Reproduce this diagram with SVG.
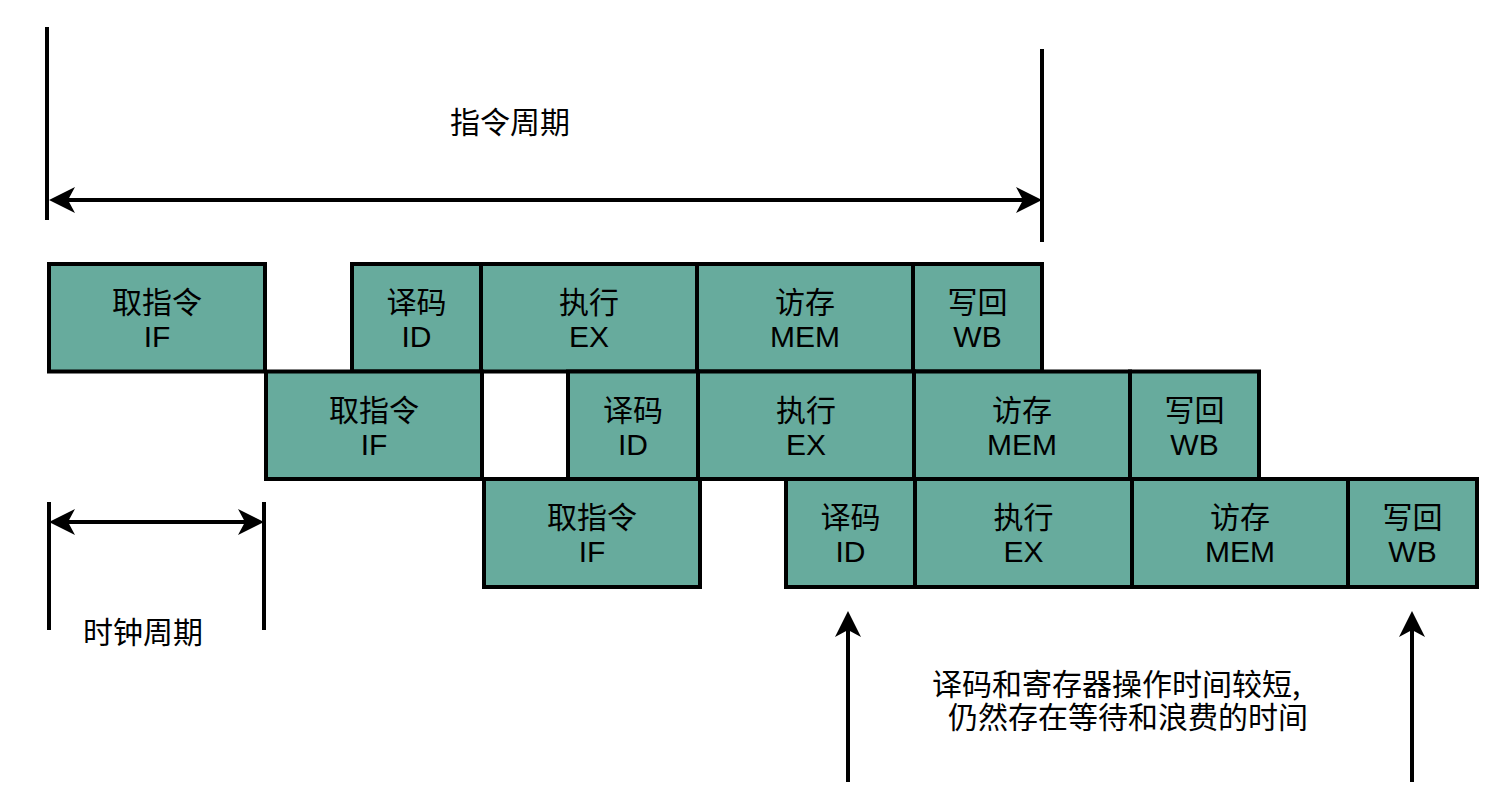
<svg xmlns="http://www.w3.org/2000/svg" width="1494" height="804" viewBox="0 0 1494 804">
<style>
.box{fill:#67AB9D;stroke:#000;stroke-width:4}
.cn{font-family:"Noto Sans CJK SC","Noto Sans",sans-serif;font-size:30px;fill:#000;text-anchor:middle}
.en{font-family:"Liberation Sans",Arial,sans-serif;font-size:30px;fill:#000;text-anchor:middle}
.ln{stroke:#000;stroke-width:4;fill:none}
.lbl{font-family:"Noto Sans CJK SC","Noto Sans",sans-serif;font-size:30px;fill:#000}
</style>
<defs>
<marker id="ah" viewBox="0 0 26 26" refX="18" refY="13" markerWidth="26" markerHeight="26" markerUnits="userSpaceOnUse" orient="auto-start-reverse">
<path d="M0,0 L26,13 L0,26 L7,13 Z" fill="#000"/>
</marker>
</defs>
<rect width="1494" height="804" fill="#fff"/>
<g id="connectors">
<line class="ln" x1="47" y1="27" x2="47" y2="220"/>
<line class="ln" x1="1042" y1="49" x2="1042" y2="242"/>
<line class="ln" x1="57" y1="200" x2="1034" y2="200" marker-start="url(#ah)" marker-end="url(#ah)"/>
<line class="ln" x1="49" y1="502" x2="49" y2="630"/>
<line class="ln" x1="264" y1="502" x2="264" y2="630"/>
<line class="ln" x1="57" y1="522" x2="256" y2="522" marker-start="url(#ah)" marker-end="url(#ah)"/>
<line class="ln" x1="848" y1="782" x2="848" y2="619" marker-end="url(#ah)"/>
<line class="ln" x1="1412" y1="782" x2="1412" y2="619" marker-end="url(#ah)"/>
</g>
<g id="label-instr-cycle"><text class="lbl" x="510" y="133" text-anchor="middle">指令周期</text></g>
<g id="label-clock-cycle"><text class="lbl" x="143" y="643" text-anchor="middle">时钟周期</text></g>
<g id="label-note">
<text class="lbl" x="932" y="695">译码和寄存器操作时间较短,</text>
<text class="lbl" x="948" y="728">仍然存在等待和浪费的时间</text>
</g>
<g id="r1-if"><rect class="box" x="49" y="264" width="216" height="107.5"/><text class="cn" x="157" y="313">取指令</text><text class="en" x="157" y="347">IF</text></g>
<g id="r1-id"><rect class="box" x="352" y="264" width="129" height="107.5"/><text class="cn" x="416.5" y="313">译码</text><text class="en" x="416.5" y="347">ID</text></g>
<g id="r1-ex"><rect class="box" x="481" y="264" width="216" height="107.5"/><text class="cn" x="589" y="313">执行</text><text class="en" x="589" y="347">EX</text></g>
<g id="r1-mem"><rect class="box" x="697" y="264" width="216" height="107.5"/><text class="cn" x="805" y="313">访存</text><text class="en" x="805" y="347">MEM</text></g>
<g id="r1-wb"><rect class="box" x="913" y="264" width="129" height="107.5"/><text class="cn" x="977.5" y="313">写回</text><text class="en" x="977.5" y="347">WB</text></g>
<g id="r2-if"><rect class="box" x="266" y="371.5" width="216" height="107.5"/><text class="cn" x="374" y="420.5">取指令</text><text class="en" x="374" y="454.5">IF</text></g>
<g id="r2-id"><rect class="box" x="568" y="371.5" width="130" height="107.5"/><text class="cn" x="633" y="420.5">译码</text><text class="en" x="633" y="454.5">ID</text></g>
<g id="r2-ex"><rect class="box" x="698" y="371.5" width="216" height="107.5"/><text class="cn" x="806" y="420.5">执行</text><text class="en" x="806" y="454.5">EX</text></g>
<g id="r2-mem"><rect class="box" x="914" y="371.5" width="216" height="107.5"/><text class="cn" x="1022" y="420.5">访存</text><text class="en" x="1022" y="454.5">MEM</text></g>
<g id="r2-wb"><rect class="box" x="1130" y="371.5" width="129" height="107.5"/><text class="cn" x="1194.5" y="420.5">写回</text><text class="en" x="1194.5" y="454.5">WB</text></g>
<g id="r3-if"><rect class="box" x="484" y="479" width="216" height="108"/><text class="cn" x="592" y="528">取指令</text><text class="en" x="592" y="562">IF</text></g>
<g id="r3-id"><rect class="box" x="786" y="479" width="129" height="108"/><text class="cn" x="850.5" y="528">译码</text><text class="en" x="850.5" y="562">ID</text></g>
<g id="r3-ex"><rect class="box" x="915" y="479" width="217" height="108"/><text class="cn" x="1023.5" y="528">执行</text><text class="en" x="1023.5" y="562">EX</text></g>
<g id="r3-mem"><rect class="box" x="1132" y="479" width="216" height="108"/><text class="cn" x="1240" y="528">访存</text><text class="en" x="1240" y="562">MEM</text></g>
<g id="r3-wb"><rect class="box" x="1348" y="479" width="129" height="108"/><text class="cn" x="1412.5" y="528">写回</text><text class="en" x="1412.5" y="562">WB</text></g>
</svg>
